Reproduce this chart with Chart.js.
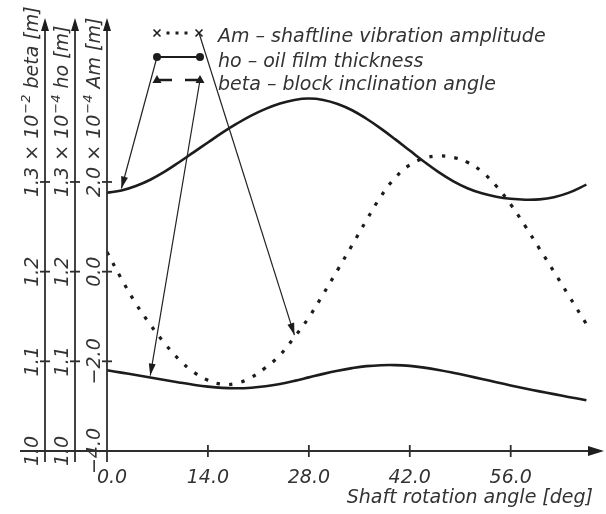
<!DOCTYPE html>
<html>
<head>
<meta charset="utf-8">
<script src="https://cdn.jsdelivr.net/npm/chart.js@4.4.0/dist/chart.umd.min.js"></script>
<style>
  html, body { margin: 0; padding: 0; background: #fff; }
</style>
</head>
<body>
<canvas id="myChart" width="606" height="514"></canvas>
<script>
// shaft rotation angle [deg]
var angles = [0, 2, 4, 6, 8, 10, 12, 14, 16, 18, 20, 22, 24, 26, 28, 30, 32,
              34, 36, 38, 40, 42, 44, 46, 48, 50, 52, 54, 56, 58, 60, 62, 64, 66.5];

// Am - shaftline vibration amplitude (x 1e-4 m)
var amValues = [0.44, -0.16, -0.71, -1.18, -1.60, -1.96, -2.24, -2.42, -2.51, -2.49, -2.36,
                -2.14, -1.86, -1.46, -1.02, -0.50, 0.04, 0.59, 1.15, 1.68, 2.10, 2.38, 2.53,
                2.58, 2.55, 2.44, 2.23, 1.91, 1.50, 1.02, 0.51, 0.0, -0.52, -1.17];

// ho - oil film thickness (x 1e-4 m)
var hoValues = [1.288, 1.2905, 1.2955, 1.3025, 1.3115, 1.322, 1.333, 1.344, 1.355, 1.365,
                1.374, 1.3815, 1.3875, 1.3915, 1.393, 1.3915, 1.387, 1.380, 1.3705, 1.3595,
                1.3475, 1.335, 1.3225, 1.311, 1.301, 1.293, 1.2873, 1.2835, 1.2812, 1.2802,
                1.2806, 1.283, 1.2878, 1.297];

// beta - block inclination angle (x 1e-2 m)
var betaValues = [1.090, 1.0874, 1.0847, 1.0819, 1.0791, 1.0764, 1.0739, 1.0718, 1.0704,
                  1.0700, 1.0706, 1.0722, 1.0748, 1.0782, 1.0821, 1.0860, 1.0895, 1.0924,
                  1.0946, 1.0957, 1.0958, 1.0949, 1.0930, 1.0904, 1.0873, 1.0839, 1.0803,
                  1.0767, 1.0731, 1.0697, 1.0665, 1.0634, 1.0603, 1.0566];

var xTicks = [0, 14, 28, 42, 56];
var xTickLabels = ['0.0', '14.0', '28.0', '42.0', '56.0'];
var amTicks = [-4, -2, 0, 2];
var amTickLabels = ['\u22124.0', '\u22122.0', '0.0', '2.0'];
var hoTicks = [1.0, 1.1, 1.2, 1.3];
var hoTickLabels = ['1.0', '1.1', '1.2', '1.3'];
var betaTicks = [1.0, 1.1, 1.2, 1.3];
var betaTickLabels = ['1.0', '1.1', '1.2', '1.3'];

var legendLabels = [
    'Am \u2013 shaftline vibration amplitude',
    'ho \u2013 oil film thickness',
    'beta \u2013 block inclination angle'
];
var xTitle = 'Shaft rotation angle [deg]';

var INK = '#1c1c1c';
var TEXT = '#333333';
var FONT = 'italic 19px "DejaVu Sans"';
var SUP_FONT = 'italic 13px "DejaVu Sans"';

function pts(ys) {
    return angles.map(function (a, i) { return { x: a, y: ys[i] }; });
}

function arrowHead(ctx, x0, y0, x1, y1, len, half) {
    var a = Math.atan2(y1 - y0, x1 - x0);
    ctx.beginPath();
    ctx.moveTo(x1, y1);
    ctx.lineTo(x1 - len * Math.cos(a) + half * Math.sin(a), y1 - len * Math.sin(a) - half * Math.cos(a));
    ctx.lineTo(x1 - len * Math.cos(a) - half * Math.sin(a), y1 - len * Math.sin(a) + half * Math.cos(a));
    ctx.closePath();
    ctx.fill();
}

// rotated tick label; the top one carries the exponent and the axis name
function vertLabel(ctx, axisX, y, label, exp, title) {
    ctx.save();
    ctx.translate(axisX - 7, y);
    ctx.rotate(-Math.PI / 2);
    ctx.font = FONT;
    ctx.textAlign = 'left';
    ctx.textBaseline = 'alphabetic';
    var w = ctx.measureText(label).width;
    var x = -w / 2;
    ctx.fillText(label, x, 0);
    if (exp) {
        x += w;
        var t = ' \u00d7 10';
        ctx.fillText(t, x, 0);
        x += ctx.measureText(t).width;
        ctx.font = SUP_FONT;
        ctx.fillText(exp, x + 1, -8);
        x += ctx.measureText(exp).width + 1;
        ctx.font = FONT;
        ctx.fillText(title, x + 6, 0);
    }
    ctx.restore();
}

var axesPlugin = {
    id: 'axesPlugin',
    afterDraw: function (chart) {
        var ctx = chart.ctx,
            sx = chart.scales.x,
            area = chart.chartArea,
            y0 = area.bottom;

        var yAxes = [
            { scale: chart.scales.beta, x: area.left - 62, ticks: betaTicks, labels: betaTickLabels, exp: '\u22122', title: 'beta [m]' },
            { scale: chart.scales.ho, x: area.left - 32, ticks: hoTicks, labels: hoTickLabels, exp: '\u22124', title: 'ho [m]' },
            { scale: chart.scales.am, x: area.left, ticks: amTicks, labels: amTickLabels, exp: '\u22124', title: 'Am [m]' }
        ];

        ctx.save();
        ctx.strokeStyle = '#2e2e2e';
        ctx.fillStyle = '#1e1e1e';
        ctx.lineWidth = 1.8;

        // x axis
        ctx.beginPath();
        ctx.moveTo(20, y0);
        ctx.lineTo(596, y0);
        ctx.stroke();
        arrowHead(ctx, 20, y0, 604, y0, 16, 5);
        xTicks.forEach(function (v) {
            if (v === 0) return;
            var px = sx.getPixelForValue(v);
            ctx.beginPath();
            ctx.moveTo(px, y0 - 6);
            ctx.lineTo(px, y0 + 6);
            ctx.stroke();
        });

        // y axes
        yAxes.forEach(function (ax) {
            ctx.strokeStyle = '#2e2e2e';
            ctx.lineWidth = 1.8;
            ctx.beginPath();
            ctx.moveTo(ax.x, y0 + 11);
            ctx.lineTo(ax.x, area.top + 6);
            ctx.stroke();
            ctx.fillStyle = '#1e1e1e';
            arrowHead(ctx, ax.x, y0, ax.x, area.top - 3, 13, 4);
            ax.ticks.forEach(function (v, i) {
                var py = ax.scale.getPixelForValue(v);
                ctx.beginPath();
                ctx.moveTo(ax.x - 5, py);
                ctx.lineTo(ax.x + 5, py);
                ctx.stroke();
                ctx.fillStyle = TEXT;
                var last = i === ax.ticks.length - 1;
                vertLabel(ctx, ax.x, py, ax.labels[i], last ? ax.exp : null, last ? ax.title : null);
            });
        });

        // x tick labels and title
        ctx.fillStyle = TEXT;
        ctx.font = FONT;
        ctx.textAlign = 'center';
        ctx.textBaseline = 'alphabetic';
        xTicks.forEach(function (v, i) {
            var px = sx.getPixelForValue(v) + (v === 0 ? 5 : 0);
            ctx.fillText(xTickLabels[i], px, 483);
        });
        ctx.textAlign = 'right';
        ctx.fillText(xTitle, 593, 503);

        // legend
        ctx.textAlign = 'left';
        ctx.fillText(legendLabels[0], 218, 42);
        ctx.fillText(legendLabels[1], 218, 67);
        ctx.fillText(legendLabels[2], 218, 90);

        ctx.strokeStyle = INK;
        ctx.fillStyle = INK;
        // Am marker: x - - x
        ctx.lineWidth = 1.6;
        [157, 199].forEach(function (cx) {
            ctx.beginPath();
            ctx.moveTo(cx - 3.5, 29.5); ctx.lineTo(cx + 3.5, 36.5);
            ctx.moveTo(cx + 3.5, 29.5); ctx.lineTo(cx - 3.5, 36.5);
            ctx.stroke();
        });
        [168, 177, 186].forEach(function (cx) {
            ctx.fillRect(cx - 1.5, 31.5, 3, 3);
        });
        // ho marker: dot - dot
        ctx.lineWidth = 2.2;
        ctx.beginPath();
        ctx.moveTo(157, 57); ctx.lineTo(200, 57);
        ctx.stroke();
        [157, 200].forEach(function (cx) {
            ctx.beginPath();
            ctx.arc(cx, 57, 4, 0, Math.PI * 2);
            ctx.fill();
        });
        // beta marker: triangle -- triangle
        ctx.lineWidth = 2.6;
        ctx.beginPath();
        ctx.moveTo(157, 80); ctx.lineTo(172, 80);
        ctx.moveTo(185, 80); ctx.lineTo(200, 80);
        ctx.stroke();
        [157, 200].forEach(function (cx) {
            ctx.beginPath();
            ctx.moveTo(cx, 75); ctx.lineTo(cx + 4.5, 83); ctx.lineTo(cx - 4.5, 83);
            ctx.closePath();
            ctx.fill();
        });

        // pointer arrows from legend markers to curves
        var pointers = [
            { x0: 157, y0: 57, scale: chart.scales.ho, i: 1, vals: hoValues },
            { x0: 199, y0: 33, scale: chart.scales.am, i: 13, vals: amValues },
            { x0: 200, y0: 80, scale: chart.scales.beta, i: 3, vals: betaValues }
        ];
        ctx.lineWidth = 1.2;
        ctx.strokeStyle = '#222';
        pointers.forEach(function (p) {
            var tx = sx.getPixelForValue(angles[p.i]),
                ty = p.scale.getPixelForValue(p.vals[p.i]) - 2;
            ctx.beginPath();
            ctx.moveTo(p.x0, p.y0);
            ctx.lineTo(tx, ty);
            ctx.stroke();
            arrowHead(ctx, p.x0, p.y0, tx, ty, 12, 3.5);
        });
        ctx.restore();
    }
};

var chart = new Chart(document.getElementById('myChart').getContext('2d'), {
    type: 'line',
    data: {
        datasets: [{
            label: 'ho',
            data: pts(hoValues),
            yAxisID: 'ho',
            borderColor: INK,
            borderWidth: 2.6,
            pointRadius: 0,
            tension: 0.4,
            fill: false
        }, {
            label: 'beta',
            data: pts(betaValues),
            yAxisID: 'beta',
            borderColor: INK,
            borderWidth: 2.6,
            pointRadius: 0,
            tension: 0.4,
            fill: false
        }, {
            label: 'Am',
            data: pts(amValues),
            yAxisID: 'am',
            borderColor: INK,
            borderWidth: 3.2,
            borderDash: [3.5, 9],
            pointRadius: 0,
            tension: 0.4,
            fill: false
        }]
    },
    options: {
        responsive: false,
        animation: false,
        devicePixelRatio: 1,
        layout: { padding: { left: 107, right: 16, top: 21, bottom: 63 } },
        scales: {
            x: { type: 'linear', min: 0, max: 67, display: false },
            am: { type: 'linear', position: 'left', min: -4, max: 5.59, display: false },
            ho: { type: 'linear', position: 'left', min: 1.0, max: 1.4795, display: false },
            beta: { type: 'linear', position: 'left', min: 1.0, max: 1.4795, display: false }
        },
        plugins: {
            legend: { display: false },
            tooltip: { enabled: false }
        }
    },
    plugins: [axesPlugin]
});
</script>
</body>
</html>
